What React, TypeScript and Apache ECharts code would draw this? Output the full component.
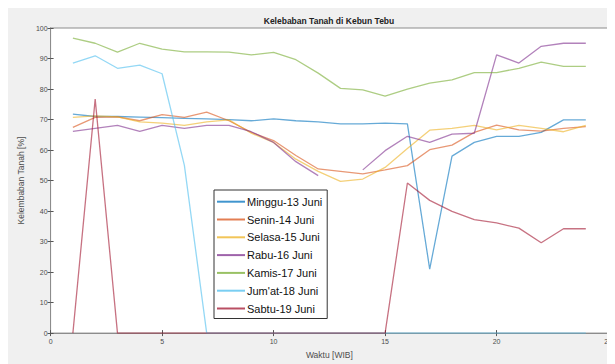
import React, { useEffect, useRef } from "react";
import * as echarts from "echarts";

const hours = [1, 2, 3, 4, 5, 6, 7, 8, 9, 10, 11, 12, 13, 14, 15, 16, 17, 18, 19, 20, 21, 22, 23, 24];

const seriesNames = [
  "Minggu-13 Juni",
  "Senin-14 Juni",
  "Selasa-15 Juni",
  "Rabu-16 Juni",
  "Kamis-17 Juni",
  "Jum'at-18 Juni",
  "Sabtu-19 Juni",
];

const minggu = [71.8, 71.0, 71.0, 70.8, 70.6, 70.4, 70.2, 70.0, 69.6, 70.2, 69.6, 69.2, 68.6, 68.6, 68.8, 68.6, 21.0, 58.0, 62.5, 64.5, 64.5, 65.8, 69.9, 69.9];
const senin = [67.4, 70.7, 70.9, 69.6, 71.6, 70.7, 72.4, 69.6, 65.8, 63.1, 58.2, 53.8, 53.0, 52.2, 53.5, 54.9, 60.1, 61.6, 65.8, 68.2, 66.6, 66.2, 67.1, 67.7];
const selasa = [70.7, 71.2, 70.9, 69.2, 68.8, 68.1, 69.2, 69.9, 65.5, 62.5, 57.0, 53.0, 49.7, 50.5, 54.3, 60.5, 66.5, 67.1, 68.1, 66.6, 68.1, 67.1, 66.0, 68.1];
const rabu: (number | null)[] = [66.1, 67.1, 68.1, 66.1, 68.1, 67.1, 68.1, 68.1, 66.0, 62.5, 56.2, 51.6, null, 53.5, 59.8, 64.5, 62.5, 65.2, 65.5, 91.2, 88.5, 94.0, 95.0, 95.0];
const kamis = [96.7, 95.0, 92.1, 95.0, 93.1, 92.2, 92.2, 92.1, 91.2, 92.0, 89.6, 85.2, 80.2, 79.7, 77.7, 80.0, 81.9, 83.0, 85.4, 85.4, 86.8, 88.8, 87.4, 87.4];
const jumat = [88.5, 90.9, 86.8, 87.8, 85.0, 55.0, 0, 0, 0, 0, 0, 0, 0, 0, 0, 0, 0, 0, 0, 0, 0, 0, 0, 0];
const sabtu = [0, 76.7, 0, 0, 0, 0, 0, 0, 0, 0, 0, 0, 0, 0, 0, 49.2, 43.5, 39.9, 37.2, 36.1, 34.4, 29.6, 34.2, 34.2];

const allValues = [minggu, senin, selasa, rabu, kamis, jumat, sabtu];
const colors = ["#0072BD", "#D95319", "#EDB120", "#7E2F8E", "#77AC30", "#4DBEEE", "#A2142F"];

const xTicks = [0, 5, 10, 15, 20, 25];
const yTicks = [0, 10, 20, 30, 40, 50, 60, 70, 80, 90, 100];

const FONT = "Liberation Sans";

export default function App() {
  const ref = useRef<HTMLDivElement>(null);
  useEffect(() => {
    if (!ref.current) return;
    const chart = echarts.init(ref.current, undefined, { renderer: "svg" });
    const axisColor = "#8c8c8c";
    const labelStyle = { fontSize: 7, color: "#4d4d4d", fontFamily: FONT };
    const series = seriesNames.map((name, i) => ({
      name,
      type: "line",
      data: hours.map((h, k) => [h, allValues[i][k] === null ? "-" : allValues[i][k]]),
      showSymbol: false,
      symbol: "none",
      connectNulls: false,
      color: colors[i],
      lineStyle: { width: 1.3, opacity: 0.6, color: colors[i] },
      itemStyle: { color: colors[i], opacity: 0.75 },
      xAxisIndex: 0,
      yAxisIndex: 0,
    }));
    chart.setOption({
      animation: false,
      backgroundColor: "#f0f0f0",
      grid: {
        left: 36,
        right: 2,
        top: 20,
        bottom: 30,
        show: true,
        backgroundColor: "#ffffff",
        borderColor: axisColor,
        borderWidth: 1,
      },
      xAxis: [
        {
          type: "value",
          min: 0,
          max: 25,
          interval: 5,
          position: "bottom",
          name: "Waktu [WIB]",
          nameLocation: "middle",
          nameGap: 16,
          nameTextStyle: { fontSize: 8.5, color: "#4d4d4d", fontFamily: FONT },
          axisLine: { show: true, lineStyle: { color: axisColor } },
          axisTick: { show: true, inside: true, length: 3, lineStyle: { color: "#555" } },
          axisLabel: { ...labelStyle, margin: 5, formatter: (v: number) => (xTicks.includes(v) ? String(v) : "") },
          splitLine: { show: false },
        },
        {
          type: "value",
          min: 0,
          max: 25,
          interval: 5,
          position: "top",
          axisLine: { show: true, lineStyle: { color: axisColor } },
          axisTick: { show: true, inside: true, length: 3, lineStyle: { color: "#555" } },
          axisLabel: { show: false },
          splitLine: { show: false },
        },
      ],
      yAxis: [
        {
          type: "value",
          min: 0,
          max: 100,
          interval: 10,
          position: "left",
          name: "Kelembaban Tanah [%]",
          nameLocation: "middle",
          nameGap: 18,
          nameRotate: 90,
          nameTextStyle: { fontSize: 8.5, color: "#4d4d4d", fontFamily: FONT },
          axisLine: { show: true, lineStyle: { color: axisColor } },
          axisTick: { show: true, inside: true, length: 3, lineStyle: { color: "#555" } },
          axisLabel: { ...labelStyle, margin: 3, formatter: (v: number) => (yTicks.includes(v) ? String(v) : "") },
          splitLine: { show: false },
        },
        {
          type: "value",
          min: 0,
          max: 100,
          interval: 10,
          position: "right",
          axisLine: { show: true, lineStyle: { color: axisColor } },
          axisTick: { show: true, inside: true, length: 3, lineStyle: { color: "#555" } },
          axisLabel: { show: false },
          splitLine: { show: false },
        },
      ],
      legend: {
        orient: "vertical",
        left: 206,
        top: 182,
        data: seriesNames,
        icon: "rect",
        itemWidth: 28,
        itemHeight: 2,
        itemGap: 5.8,
        padding: [5.7, 5, 4, 3],
        backgroundColor: "#ffffff",
        borderColor: "#333333",
        borderWidth: 1,
        textStyle: { fontSize: 11, color: "#111", fontFamily: FONT, lineHeight: 12, padding: [0, 0, 0, -3] },
      },
      graphic: [
        {
          type: "text",
          x: 321,
          y: 13,
          style: {
            text: "Kelebaban Tanah di Kebun Tebu",
            font: `bold 8.5px ${FONT}`,
            fill: "#222",
            textAlign: "center",
            textVerticalAlign: "middle",
          },
        },
      ],
      series,
    });
    return () => chart.dispose();
  }, []);
  return <div ref={ref} style={{ width: 607, height: 356 }} />;
}
